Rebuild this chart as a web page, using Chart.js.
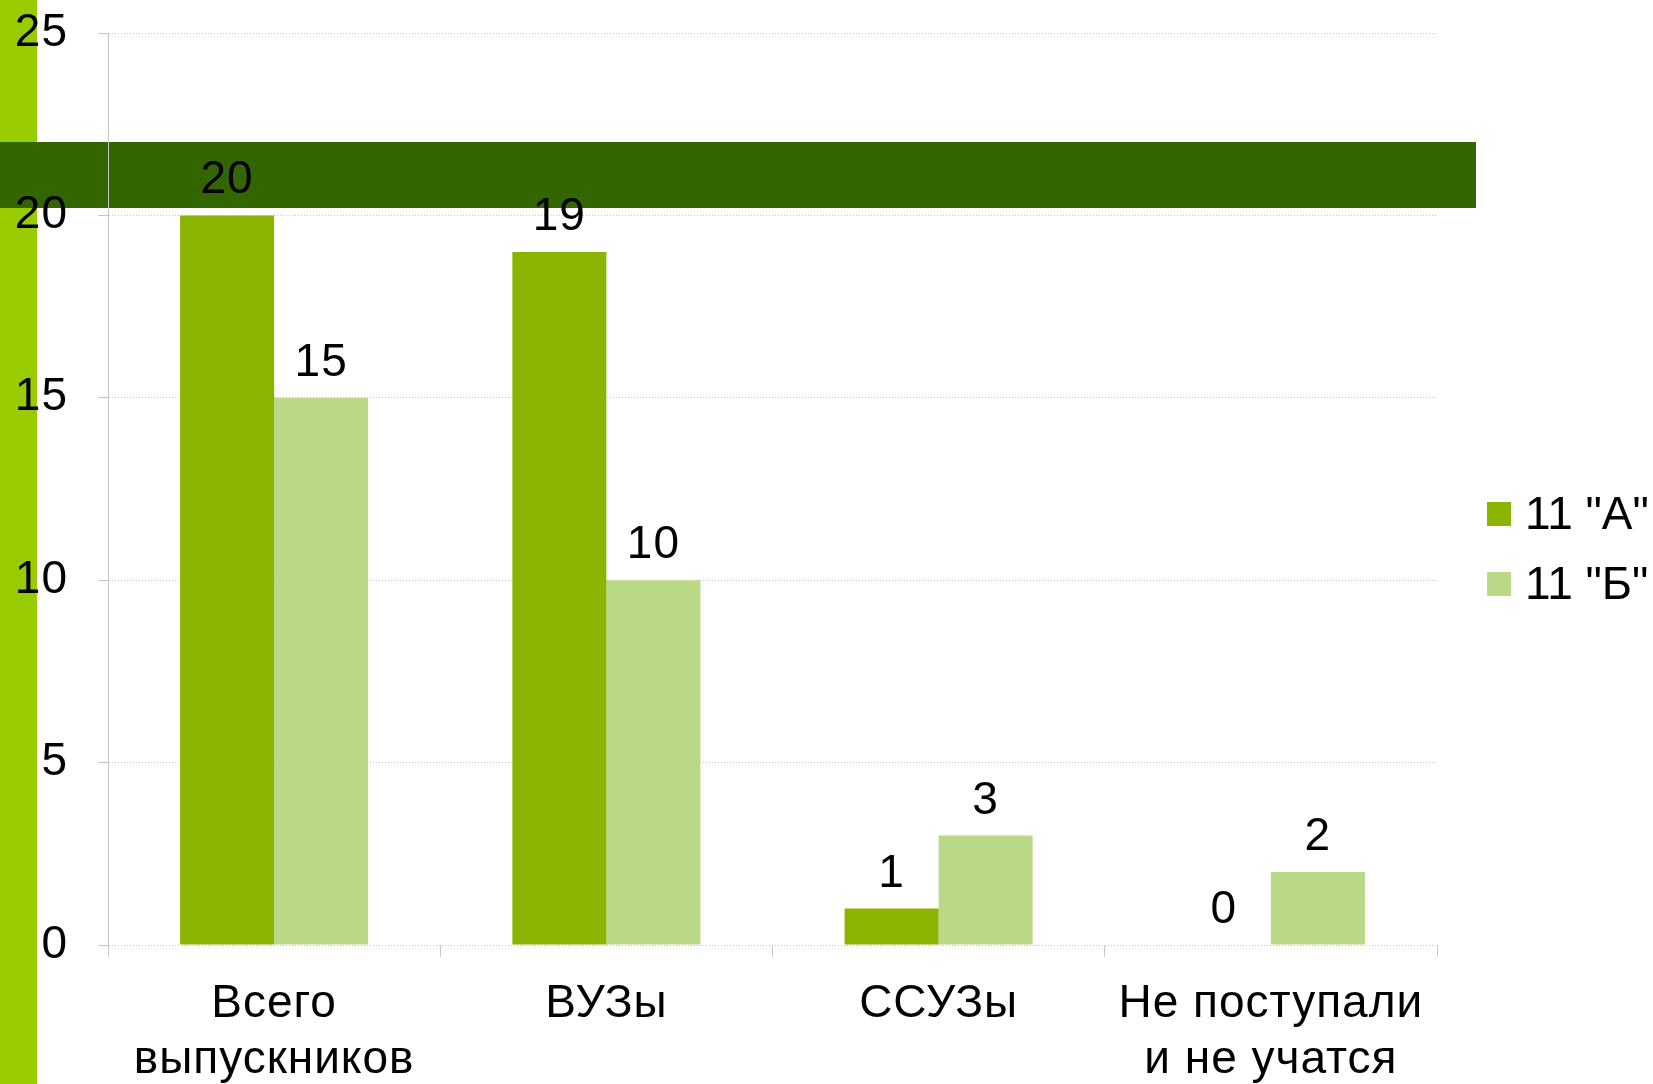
<!DOCTYPE html>
<html>
<head>
<meta charset="utf-8">
<script src="https://cdn.jsdelivr.net/npm/chart.js@4/dist/chart.umd.min.js"></script>
<style>
html,body{margin:0;padding:0;background:#fff;overflow:hidden;}
canvas{display:block;}
</style>
</head>
<body>
<canvas id="c" width="1653" height="1084"></canvas>
<script>
const categories = [['Всего', 'выпускников'], 'ВУЗы', 'ССУЗы', ['Не поступали', 'и не учатся']];
const seriesNames = ['11 "А"', '11 "Б"'];
const seriesA = [20, 19, 1, 0];
const seriesB = [15, 10, 3, 2];
const yMin = 0, yMax = 25, yStep = 5;

const FONT = '"Liberation Sans", Arial, sans-serif';

const decor = {
  id: 'decor',
  beforeInit(chart) {
    chart.ctx.letterSpacing = '1px';
  },
  beforeDraw(chart) {
    const ctx = chart.ctx;
    ctx.letterSpacing = '1px';
    ctx.save();
    ctx.fillStyle = '#ffffff';
    ctx.fillRect(0, 0, chart.width, chart.height);
    ctx.fillStyle = '#99cc00';
    ctx.fillRect(0, 0, 37, chart.height);
    ctx.fillStyle = '#336600';
    ctx.fillRect(0, 142, 1476, 66);
    ctx.restore();
  }
};

const valueLabels = {
  id: 'valueLabels',
  afterDatasetsDraw(chart) {
    const ctx = chart.ctx;
    ctx.save();
    ctx.font = '46px ' + FONT;
    ctx.fillStyle = '#000';
    ctx.textAlign = 'center';
    ctx.textBaseline = 'alphabetic';
    chart.data.datasets.forEach((ds, i) => {
      const meta = chart.getDatasetMeta(i);
      meta.data.forEach((el, j) => {
        ctx.fillText(String(ds.data[j]), el.x, el.y - 22);
      });
    });
    ctx.restore();
  }
};

const customLegend = {
  id: 'customLegend',
  afterDraw(chart) {
    const ctx = chart.ctx;
    ctx.save();
    ctx.letterSpacing = '0px';
    ctx.font = '46px ' + FONT;
    ctx.textAlign = 'left';
    ctx.textBaseline = 'middle';
    chart.data.datasets.forEach((ds, i) => {
      const cy = 514 + i * 70;
      ctx.fillStyle = ds.backgroundColor;
      ctx.fillRect(1487, cy - 12, 24, 24);
      ctx.fillStyle = '#000';
      ctx.fillText(ds.label, 1525, cy + 2);
    });
    ctx.restore();
  }
};

new Chart(document.getElementById('c'), {
  type: 'bar',
  data: {
    labels: categories,
    datasets: [
      { label: seriesNames[0], data: seriesA, backgroundColor: '#8ab400', categoryPercentage: 0.566, barPercentage: 1.0 },
      { label: seriesNames[1], data: seriesB, backgroundColor: '#b9d987', categoryPercentage: 0.566, barPercentage: 1.0 }
    ]
  },
  options: {
    responsive: false,
    animation: false,
    devicePixelRatio: 1,
    layout: { padding: { left: 0, right: 216, top: 33, bottom: 0 } },
    plugins: { legend: { display: false }, tooltip: { enabled: false } },
    scales: {
      x: {
        grid: { offset: true, drawOnChartArea: false, drawTicks: true, tickLength: 12, color: '#c8c8c8', lineWidth: 1 },
        border: { display: false },
        ticks: { color: '#000', font: { family: FONT, size: 46, lineHeight: 1.22 }, padding: 19, maxRotation: 0, autoSkip: false },
        afterFit(s) { s.height = 139; s.paddingLeft = 0; s.paddingRight = 0; }
      },
      y: {
        min: yMin, max: yMax,
        grid: { color: '#c4c4c4', lineWidth: 1, tickLength: 10, drawTicks: true },
        border: { display: true, color: '#c4c4c4', dash: [1, 2] },
        ticks: { stepSize: yStep, color: '#000', font: { family: FONT, size: 46 }, padding: 30 },
        afterFit(s) { s.width = 108; s.paddingTop = 0; s.paddingBottom = 0; }
      }
    }
  },
  plugins: [decor, valueLabels, customLegend]
});
</script>
</body>
</html>
